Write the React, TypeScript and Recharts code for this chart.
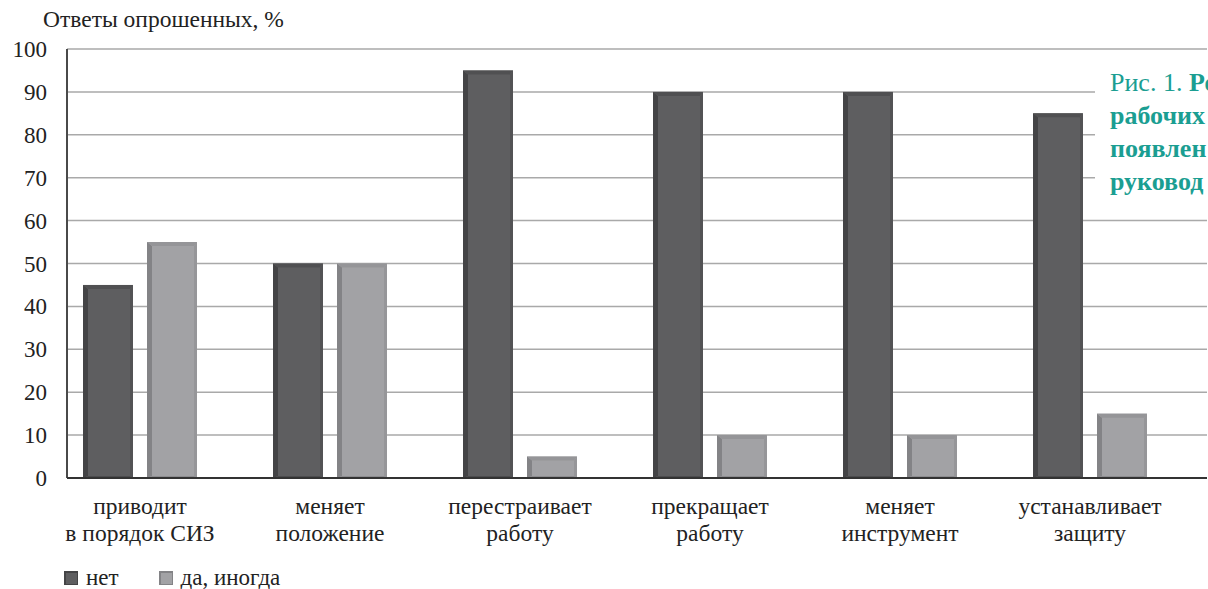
import React from 'react';
import { BarChart, Bar, XAxis, YAxis, CartesianGrid } from 'recharts';

// Survey answers, % of respondents
const categories: string[][] = [
  ['приводит', 'в порядок СИЗ'],
  ['меняет', 'положение'],
  ['перестраивает', 'работу'],
  ['прекращает', 'работу'],
  ['меняет', 'инструмент'],
  ['устанавливает', 'защиту'],
];
const noValues = [45, 50, 95, 90, 90, 85];
const yesValues = [55, 50, 5, 10, 10, 15];
const yTicks = [0, 10, 20, 30, 40, 50, 60, 70, 80, 90, 100];
const seriesNames = { no: 'нет', yes: 'да, иногда' };

const data = categories.map((lines, i) => ({
  key: lines.join(' '),
  no: noValues[i],
  yes: yesValues[i],
}));

const FONT = '"Liberation Serif", "DejaVu Serif", serif';

type Palette = { fill: string; left: string; top: string; right: string; bottom: string };
const darkPalette: Palette = { fill: '#5e5e60', left: '#444446', top: '#505052', right: '#535355', bottom: '#4c4c4e' };
const lightPalette: Palette = { fill: '#a2a2a5', left: '#838386', top: '#959598', right: '#969699', bottom: '#8d8d90' };

// Bar with a bevelled frame
const bevelShape = (pal: Palette) => (props: any) => {
  const { x, y, width, height } = props;
  if (!height || height <= 0) return null;
  const l = 5, t = 4, r = 3, b = 2;
  const x2 = x + width, y2 = y + height;
  return (
    <g>
      <rect x={x} y={y} width={width} height={height} fill={pal.fill} />
      <polygon points={`${x},${y} ${x + l},${y + t} ${x + l},${y2 - b} ${x},${y2}`} fill={pal.left} />
      <polygon points={`${x},${y} ${x2},${y} ${x2 - r},${y + t} ${x + l},${y + t}`} fill={pal.top} />
      <polygon points={`${x2},${y} ${x2},${y2} ${x2 - r},${y2 - b} ${x2 - r},${y + t}`} fill={pal.right} />
      <polygon points={`${x},${y2} ${x + l},${y2 - b} ${x2 - r},${y2 - b} ${x2},${y2}`} fill={pal.bottom} />
    </g>
  );
};

const XTick = (props: any) => {
  const { x, y, payload } = props;
  const idx = data.findIndex((d) => d.key === payload.value);
  const lines = idx >= 0 ? categories[idx] : [String(payload.value)];
  return (
    <text x={x} y={y + 28} textAnchor="middle" fill="#222" fontFamily={FONT} fontSize={23.5}>
      {lines.map((ln, i) => (
        <tspan key={i} x={x} dy={i === 0 ? 0 : 26.5}>
          {ln}
        </tspan>
      ))}
    </text>
  );
};

const YTick = (props: any) => {
  const { y, payload } = props;
  return (
    <text x={47} y={y + 8} textAnchor="end" fill="#222" fontFamily={FONT} fontSize={23}>
      {payload.value}
    </text>
  );
};

const Swatch = ({ color, edge }: { color: string; edge: string }) => (
  <span
    style={{
      display: 'inline-block',
      width: 14,
      height: 14,
      background: color,
      boxShadow: `inset 2px 2px 0 ${edge}, inset -1px -1px 0 ${edge}`,
    }}
  />
);

export default function App() {
  return (
    <div
      style={{
        position: 'absolute',
        left: 0,
        top: 0,
        width: 1208,
        height: 589,
        overflow: 'hidden',
        background: '#fff',
        fontFamily: FONT,
      }}
    >
      <BarChart
        width={1208}
        height={589}
        data={data}
        margin={{ top: 49, right: 1, bottom: 0, left: 0 }}
        barCategoryGap="20%"
        barGap={14}
      >
        <CartesianGrid horizontal vertical={false} stroke="#a9a9a9" strokeWidth={1.5} />
        <YAxis
          width={67}
          domain={[0, 100]}
          ticks={yTicks}
          interval={0}
          tickLine={false}
          axisLine={{ stroke: '#4a4a4a', strokeWidth: 2 }}
          tick={<YTick />}
        />
        <XAxis
          dataKey="key"
          height={111}
          interval={0}
          padding={{ left: -22, right: 22 }}
          tickLine={false}
          axisLine={{ stroke: '#333', strokeWidth: 2 }}
          tick={<XTick />}
        />
        <Bar dataKey="no" name={seriesNames.no} isAnimationActive={false} shape={bevelShape(darkPalette)} />
        <Bar dataKey="yes" name={seriesNames.yes} isAnimationActive={false} shape={bevelShape(lightPalette)} />
      </BarChart>

      <div style={{ position: 'absolute', left: 43, top: 6, fontSize: 23.5, color: '#222', whiteSpace: 'nowrap' }}>
        Ответы опрошенных, %
      </div>

      <div
        style={{
          position: 'absolute',
          left: 64,
          top: 565,
          fontSize: 23,
          color: '#222',
          display: 'flex',
          alignItems: 'center',
          whiteSpace: 'nowrap',
        }}
      >
        <Swatch color={darkPalette.fill} edge={darkPalette.left} />
        <span style={{ marginLeft: 8 }}>{seriesNames.no}</span>
        <span style={{ marginLeft: 40 }} />
        <Swatch color={lightPalette.fill} edge={lightPalette.left} />
        <span style={{ marginLeft: 8 }}>{seriesNames.yes}</span>
      </div>

      <div
        style={{
          position: 'absolute',
          left: 1095,
          top: 66,
          paddingLeft: 15,
          paddingRight: 10,
          fontSize: 26,
          lineHeight: '33px',
          color: '#1b9e92',
          whiteSpace: 'nowrap',
          background: '#fff',
        }}
      >
        <div>
          Рис. 1. <b>Ре</b>
        </div>
        <div>
          <b>рабочих</b>
        </div>
        <div>
          <b>появлен</b>
        </div>
        <div>
          <b>руковод</b>
        </div>
      </div>
    </div>
  );
}
